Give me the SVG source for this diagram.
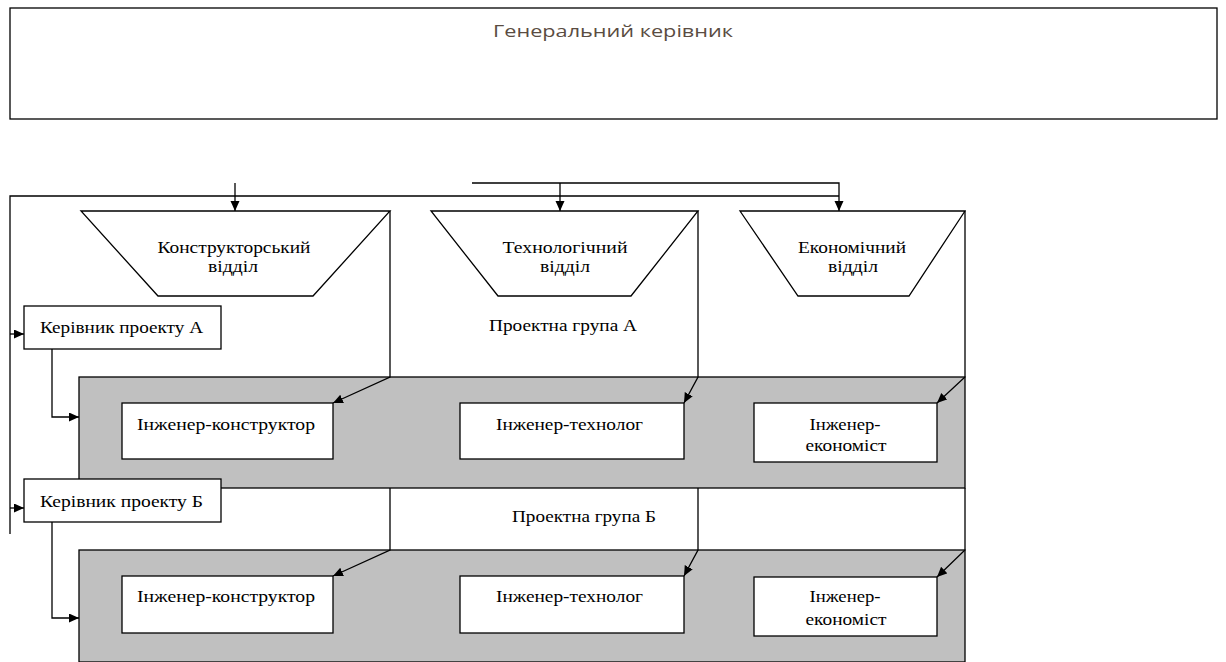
<svg xmlns="http://www.w3.org/2000/svg" width="1226" height="662" viewBox="0 0 1226 662">
<defs>
<style>
.box{fill:#fff;stroke:#000;stroke-width:1.3}
.band{fill:#c0c0c0;stroke:#000;stroke-width:1.3}
.ln{fill:none;stroke:#000;stroke-width:1.3}
.t{font-family:'Liberation Serif','DejaVu Serif',serif;font-size:17px;fill:#000;text-anchor:middle}
.title{font-family:'Open Sans','Noto Sans',sans-serif;font-size:17px;fill:#5a4c42;text-anchor:middle}
</style>
<marker id="ah" markerUnits="userSpaceOnUse" markerWidth="11" markerHeight="10" refX="10" refY="4.5" orient="auto">
<path d="M0,0 L10,4.5 L0,9 z" fill="#000"/>
</marker>
</defs>
<rect width="1226" height="662" fill="#fff"/>

<g id="general-manager">
<rect x="10" y="8" width="1207" height="111" class="box"/>
<text x="613" y="37" class="title" textLength="240" lengthAdjust="spacingAndGlyphs">Генеральний керівник</text>
</g>

<g id="group-a-band">
<rect x="79" y="377" width="886" height="111" class="band"/>
</g>
<g id="group-b-band">
<rect x="79" y="550" width="886" height="112" class="band"/>
</g>

<g id="dept-design">
<polygon points="81,211 390,211 313,296 158,296" class="box"/>
<text x="234" y="253" class="t" font-family="Liberation Serif, DejaVu Serif, serif" textLength="153" lengthAdjust="spacingAndGlyphs">Конструкторський</text>
<text x="233" y="272" class="t" font-family="Liberation Serif, DejaVu Serif, serif" textLength="50" lengthAdjust="spacingAndGlyphs">відділ</text>
</g>
<g id="dept-tech">
<polygon points="431,211 698,211 631,296 498,296" class="box"/>
<text x="565" y="253" class="t" font-family="Liberation Serif, DejaVu Serif, serif" textLength="125" lengthAdjust="spacingAndGlyphs">Технологічний</text>
<text x="565" y="272" class="t" font-family="Liberation Serif, DejaVu Serif, serif" textLength="50" lengthAdjust="spacingAndGlyphs">відділ</text>
</g>
<g id="dept-econ">
<polygon points="740,211 965,211 909,296 798,296" class="box"/>
<text x="852" y="253" class="t" font-family="Liberation Serif, DejaVu Serif, serif" textLength="108" lengthAdjust="spacingAndGlyphs">Економічний</text>
<text x="853" y="272" class="t" font-family="Liberation Serif, DejaVu Serif, serif" textLength="50" lengthAdjust="spacingAndGlyphs">відділ</text>
</g>

<g id="label-group-a">
<text x="563" y="331" class="t" font-family="Liberation Serif, DejaVu Serif, serif" textLength="148" lengthAdjust="spacingAndGlyphs">Проектна група А</text>
</g>
<g id="label-group-b">
<text x="584" y="522" class="t" font-family="Liberation Serif, DejaVu Serif, serif" textLength="144" lengthAdjust="spacingAndGlyphs">Проектна група Б</text>
</g>

<g id="manager-a">
<rect x="24" y="306" width="197" height="43" class="box"/>
<text x="121.5" y="333" class="t" font-family="Liberation Serif, DejaVu Serif, serif" textLength="163" lengthAdjust="spacingAndGlyphs">Керівник проекту А</text>
</g>
<g id="manager-b">
<rect x="24" y="479" width="197" height="43" class="box"/>
<text x="121.5" y="507" class="t" font-family="Liberation Serif, DejaVu Serif, serif" textLength="163" lengthAdjust="spacingAndGlyphs">Керівник проекту Б</text>
</g>

<g id="eng-design-a">
<rect x="122" y="403" width="211" height="56" class="box"/>
<text x="226" y="430" class="t" font-family="Liberation Serif, DejaVu Serif, serif" textLength="178" lengthAdjust="spacingAndGlyphs">Інженер-конструктор</text>
</g>
<g id="eng-tech-a">
<rect x="460" y="403" width="224" height="56" class="box"/>
<text x="569.5" y="430" class="t" font-family="Liberation Serif, DejaVu Serif, serif" textLength="147" lengthAdjust="spacingAndGlyphs">Інженер-технолог</text>
</g>
<g id="eng-econ-a">
<rect x="754" y="403" width="183" height="59" class="box"/>
<text x="845" y="430" class="t" font-family="Liberation Serif, DejaVu Serif, serif" textLength="71" lengthAdjust="spacingAndGlyphs">Інженер-</text>
<text x="846" y="451" class="t" font-family="Liberation Serif, DejaVu Serif, serif" textLength="81" lengthAdjust="spacingAndGlyphs">економіст</text>
</g>

<g id="eng-design-b">
<rect x="122" y="576" width="211" height="57" class="box"/>
<text x="226" y="602" class="t" font-family="Liberation Serif, DejaVu Serif, serif" textLength="178" lengthAdjust="spacingAndGlyphs">Інженер-конструктор</text>
</g>
<g id="eng-tech-b">
<rect x="460" y="576" width="224" height="57" class="box"/>
<text x="569.5" y="602" class="t" font-family="Liberation Serif, DejaVu Serif, serif" textLength="147" lengthAdjust="spacingAndGlyphs">Інженер-технолог</text>
</g>
<g id="eng-econ-b">
<rect x="754" y="577" width="183" height="59" class="box"/>
<text x="845" y="602" class="t" font-family="Liberation Serif, DejaVu Serif, serif" textLength="71" lengthAdjust="spacingAndGlyphs">Інженер-</text>
<text x="846" y="625" class="t" font-family="Liberation Serif, DejaVu Serif, serif" textLength="81" lengthAdjust="spacingAndGlyphs">економіст</text>
</g>

<g id="connectors">
<path d="M235,183 V211" class="ln" marker-end="url(#ah)"/>
<path d="M472,183 H839 V211" class="ln" marker-end="url(#ah)"/>
<path d="M560,183 V211" class="ln" marker-end="url(#ah)"/>
<path d="M10,534 V196 H839" class="ln"/>
<path d="M10,334 H24" class="ln" marker-end="url(#ah)"/>
<path d="M10,508 H24" class="ln" marker-end="url(#ah)"/>
<path d="M52,349 V417 H79" class="ln" marker-end="url(#ah)"/>
<path d="M52,522 V618 H79" class="ln" marker-end="url(#ah)"/>
<path d="M390,211 V377 L333,403" class="ln" marker-end="url(#ah)"/>
<path d="M390,488 V550 L333,576" class="ln" marker-end="url(#ah)"/>
<path d="M698,211 V377 L684,403" class="ln" marker-end="url(#ah)"/>
<path d="M698,488 V550 L684,576" class="ln" marker-end="url(#ah)"/>
<path d="M965,211 V377 L937,403" class="ln" marker-end="url(#ah)"/>
<path d="M965,488 V550 L937,577" class="ln" marker-end="url(#ah)"/>
</g>
</svg>
